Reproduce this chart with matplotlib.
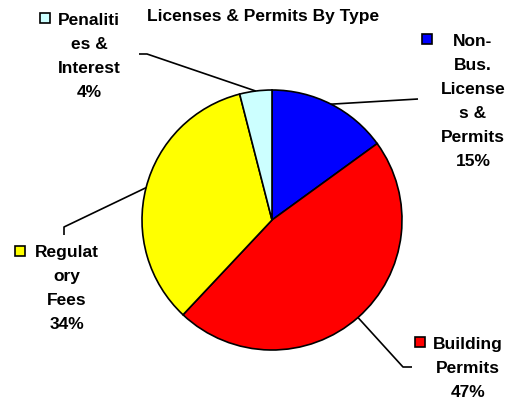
import matplotlib
matplotlib.use("Agg")
import numpy as np
from matplotlib import pyplot as plt
from matplotlib.patches import Rectangle

# data (percent of total)
categories = ["Non-\nBus.\nLicense\ns &\nPermits", "Building\nPermits",
              "Regulat\nory\nFees", "Penaliti\nes &\nInterest"]
values = [15, 47, 34, 4]
colors = ["#0000FF", "#FF0000", "#FFFF00", "#CCFFFF"]
title = "Licenses & Permits By Type"

W, H = 510, 401
plt.rcParams["font.family"] = ["Liberation Sans", "DejaVu Sans"]

fig = plt.figure(figsize=(W / 100, H / 100), dpi=100)
ax = fig.add_axes([0, 0, 1, 1])


def Y(y):
    # pixel row (from top) -> data y
    return H - y


cx, cy, r = 272, 220, 130
wedges, _ = ax.pie(values, colors=colors, startangle=90, counterclock=False,
                   center=(cx, Y(cy)), radius=r,
                   wedgeprops=dict(edgecolor="black", linewidth=1.2))
ax.set_xlim(0, W)
ax.set_ylim(0, H)
ax.set_aspect("equal")
ax.axis("off")

ax.text(263, Y(21), title, ha="center", va="baseline", fontsize=12.5, fontweight="bold")

# label layout: (square centre, text centre x, first baseline, elbow, end of leader)
layout = [
    dict(sq=(427, 39), tx=473, ty=46, elbow=None, end=(418, 99)),
    dict(sq=(420, 342), tx=468, ty=349, elbow=(403, 367), end=(412, 367)),
    dict(sq=(20, 251), tx=67, ty=257, elbow=(64, 227), end=(64, 235)),
    dict(sq=(45, 18), tx=89, ty=25, elbow=(147, 54), end=(139, 54)),
]
step = 24

for w, name, v, c, lay in zip(wedges, categories, values, colors, layout):
    # leader line from the wedge edge
    mid = np.deg2rad((w.theta1 + w.theta2) / 2)
    x0, y0 = cx + r * np.cos(mid), Y(cy) + r * np.sin(mid)
    xs, ys = [x0], [y0]
    if lay["elbow"] is not None:
        xs.append(lay["elbow"][0])
        ys.append(Y(lay["elbow"][1]))
    xs.append(lay["end"][0])
    ys.append(Y(lay["end"][1]))
    ax.plot(xs, ys, color="black", linewidth=1.2, solid_capstyle="butt")

    sx, sy = lay["sq"]
    ax.add_patch(Rectangle((sx - 5, Y(sy) - 5), 10, 10, facecolor=c,
                           edgecolor="black", linewidth=1.2))

    lines = name.split("\n") + [f"{v}%"]
    for i, line in enumerate(lines):
        ax.text(lay["tx"], Y(lay["ty"] + i * step), line, ha="center", va="baseline",
                fontsize=12.5, fontweight="bold")

fig.savefig("out.png", dpi=100)
